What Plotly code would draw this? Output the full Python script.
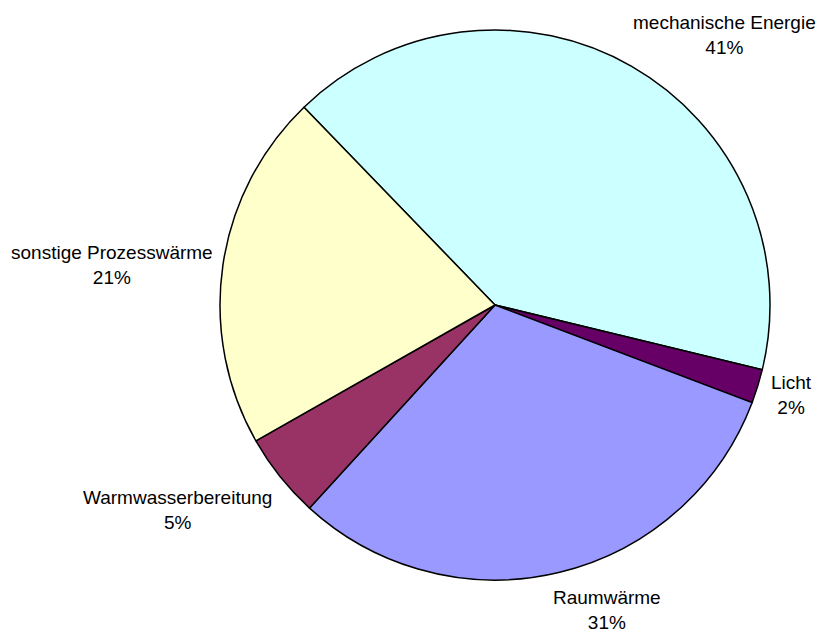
import plotly.graph_objects as go

labels = ["mechanische Energie", "Licht", "Raumwärme", "Warmwasserbereitung", "sonstige Prozesswärme"]
values = [41, 2, 31, 5, 21]
colors = ["#CCFFFF", "#660066", "#9999FF", "#993366", "#FFFFCC"]

W, H = 821, 632
cx, cy, R = 495, 305, 275

# label anchor positions in pixels (layout only)
label_pos = [(724, 35), (791, 395), (607, 610), (177, 510), (112, 265)]

total = sum(values)
fig = go.Figure(go.Pie(
    labels=labels,
    values=values,
    sort=False,
    direction="clockwise",
    rotation=-44,
    marker=dict(colors=colors, line=dict(color="black", width=1.5)),
    textinfo="none",
    hoverinfo="label+percent",
    showlegend=False,
    domain=dict(x=[(cx - R) / W, (cx + R) / W], y=[1 - (cy + R) / H, 1 - (cy - R) / H]),
))

annotations = []
for lab, v, (px, py) in zip(labels, values, label_pos):
    annotations.append(dict(
        text=f"{lab}<br>{round(v / total * 100)}%",
        x=px / W, y=1 - py / H, xref="paper", yref="paper",
        xanchor="center", yanchor="middle", showarrow=False,
        font=dict(family="Liberation Sans, Arial, sans-serif", size=19, color="black"),
    ))

fig.update_layout(
    width=W, height=H,
    margin=dict(l=0, r=0, t=0, b=0),
    paper_bgcolor="white", plot_bgcolor="white",
    annotations=annotations,
)

fig.write_html(
    "out.html",
    config={"displayModeBar": False},
    post_script="document.body.style.margin='0';document.body.style.padding='0';",
)
